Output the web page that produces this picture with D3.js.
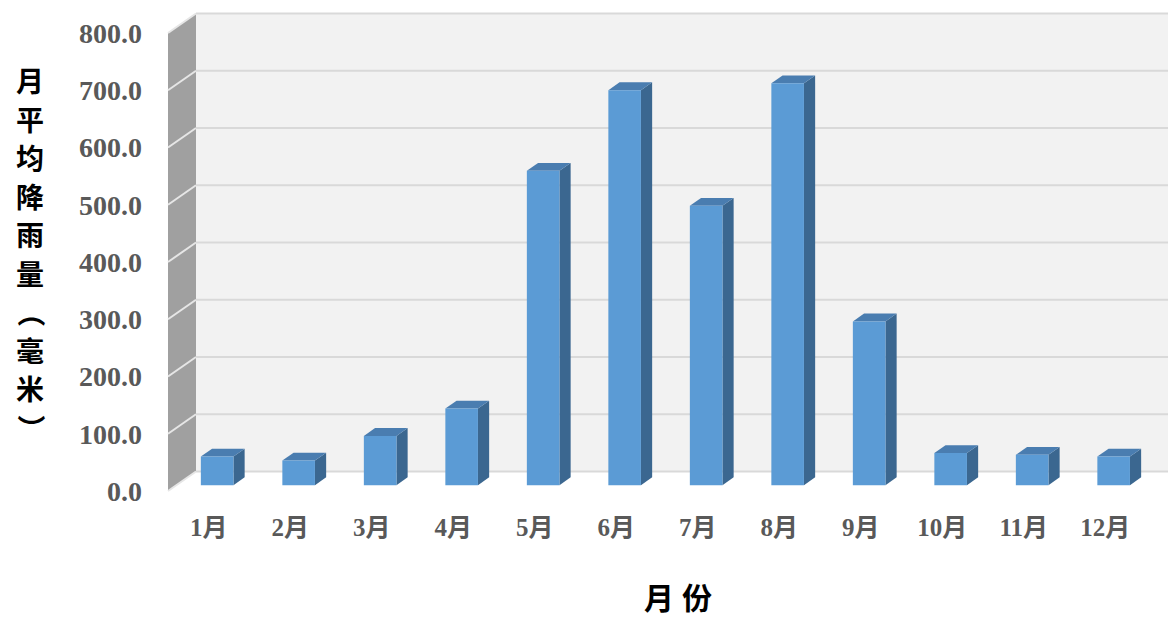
<!DOCTYPE html>
<html>
<head>
<meta charset="utf-8">
<script src="https://cdn.jsdelivr.net/npm/d3@7/dist/d3.min.js"></script>
<style>
  html, body { margin: 0; padding: 0; background: #ffffff; }
  svg { display: block; }
</style>
</head>
<body>
<svg id="chart" width="1168" height="617"></svg>
<script>
// Monthly average rainfall (mm)
const months = ["1月", "2月", "3月", "4月", "5月", "6月", "7月", "8月", "9月", "10月", "11月", "12月"];
const rainfall = [50, 43, 86, 134, 549, 690, 488, 702, 286, 56, 53, 50];
const yTicks = [0, 100, 200, 300, 400, 500, 600, 700, 800];
const yTitleChars = ["月", "平", "均", "降", "雨", "量", "（", "毫", "米", "）"];
const xTitle = "月份";

const svg = d3.select("#chart");

// Front plane of the 3D box
const plotLeft = 168, plotRight = 1146, plotTop = 33, plotBottom = 491;
// Offset of one full unit of depth (front -> back)
const DX = 28, DY = -19.5;
const barFront = 0.3, barBack = 0.7;

const x = d3.scaleBand().domain(months).range([plotLeft, plotRight])
  .paddingInner(0.6).paddingOuter(0.3);
const y = d3.scaleLinear().domain([0, 800]).range([plotBottom, plotTop]);

const P = (px, py, d) => [px + DX * d, py + DY * d];
const poly = pts => pts.map(p => p.join(",")).join(" ");

// Back wall
svg.append("polygon")
  .attr("points", poly([P(plotLeft, plotTop, 1), P(plotRight, plotTop, 1), P(plotRight, plotBottom, 1), P(plotLeft, plotBottom, 1)]))
  .attr("fill", "#f2f2f2");

// Back wall gridlines
svg.append("g").selectAll("line").data(yTicks).join("line")
  .attr("x1", d => P(plotLeft, y(d), 1)[0]).attr("y1", d => P(plotLeft, y(d), 1)[1])
  .attr("x2", d => P(plotRight, y(d), 1)[0]).attr("y2", d => P(plotRight, y(d), 1)[1])
  .attr("stroke", "#d9d9d9").attr("stroke-width", 2);

// Side wall
svg.append("polygon")
  .attr("points", poly([P(plotLeft, plotTop, 0), P(plotLeft, plotTop, 1), P(plotLeft, plotBottom, 1), P(plotLeft, plotBottom, 0)]))
  .attr("fill", "#a0a0a0");

svg.append("g").selectAll("line").data(yTicks).join("line")
  .attr("x1", d => P(plotLeft, y(d), 0)[0]).attr("y1", d => P(plotLeft, y(d), 0)[1])
  .attr("x2", d => P(plotLeft, y(d), 1)[0]).attr("y2", d => P(plotLeft, y(d), 1)[1])
  .attr("stroke", "#e6e6e6").attr("stroke-width", 2);

// Bars
const data = months.map((m, i) => ({ m, v: rainfall[i] }));
const bars = svg.append("g").selectAll("g").data(data).join("g");

bars.append("polygon") // right side face
  .attr("points", d => {
    const x1 = x(d.m) + x.bandwidth(), yt = y(d.v), yb = y(0);
    return poly([P(x1, yt, barFront), P(x1, yt, barBack), P(x1, yb, barBack), P(x1, yb, barFront)]);
  })
  .attr("fill", "#3b6790");

bars.append("polygon") // top face
  .attr("points", d => {
    const x0 = x(d.m), x1 = x0 + x.bandwidth(), yt = y(d.v);
    return poly([P(x0, yt, barFront), P(x1, yt, barFront), P(x1, yt, barBack), P(x0, yt, barBack)]);
  })
  .attr("fill", "#4a7db0");

bars.append("polygon") // front face
  .attr("points", d => {
    const x0 = x(d.m), x1 = x0 + x.bandwidth(), yt = y(d.v), yb = y(0);
    return poly([P(x0, yt, barFront), P(x1, yt, barFront), P(x1, yb, barFront), P(x0, yb, barFront)]);
  })
  .attr("fill", "#5b9bd5");

// Value axis labels
svg.append("g").selectAll("text").data(yTicks).join("text")
  .attr("x", 142).attr("y", d => y(d)).attr("dy", "0.35em")
  .attr("text-anchor", "end")
  .attr("font-family", "'Liberation Serif', 'Times New Roman', serif")
  .attr("font-weight", "bold").attr("font-size", 28)
  .attr("fill", "#595959")
  .text(d => d3.format(".1f")(d));

// Category labels
svg.append("g").selectAll("text").data(months).join("text")
  .attr("x", d => x(d) + x.bandwidth() / 2).attr("y", 527).attr("dy", "0.35em")
  .attr("text-anchor", "middle")
  .attr("font-family", "'Liberation Serif', 'Noto Sans CJK SC', serif")
  .attr("font-weight", "bold").attr("font-size", 25)
  .attr("fill", "#595959")
  .text(d => d);

// Value axis title, set vertically; brackets are turned to their vertical form
const isBracket = c => c === "（" || c === "）";
svg.append("g").selectAll("text").data(yTitleChars).join("text")
  .attr("transform", (d, i) => `translate(30,${82 + i * 38.5})` + (isBracket(d) ? " rotate(90)" : ""))
  .attr("dy", "0.36em")
  .attr("text-anchor", "middle")
  .attr("font-family", "'Noto Sans CJK SC', sans-serif")
  .attr("font-weight", "bold").attr("font-size", 28)
  .attr("fill", "#000000")
  .text(d => d);

// Category axis title
svg.append("text")
  .attr("x", 682).attr("y", 598).attr("dy", "0.36em")
  .attr("text-anchor", "middle")
  .attr("font-family", "'Noto Sans CJK SC', sans-serif")
  .attr("font-weight", "bold").attr("font-size", 30)
  .attr("letter-spacing", 8)
  .attr("fill", "#000000")
  .text(xTitle);
</script>
</body>
</html>
